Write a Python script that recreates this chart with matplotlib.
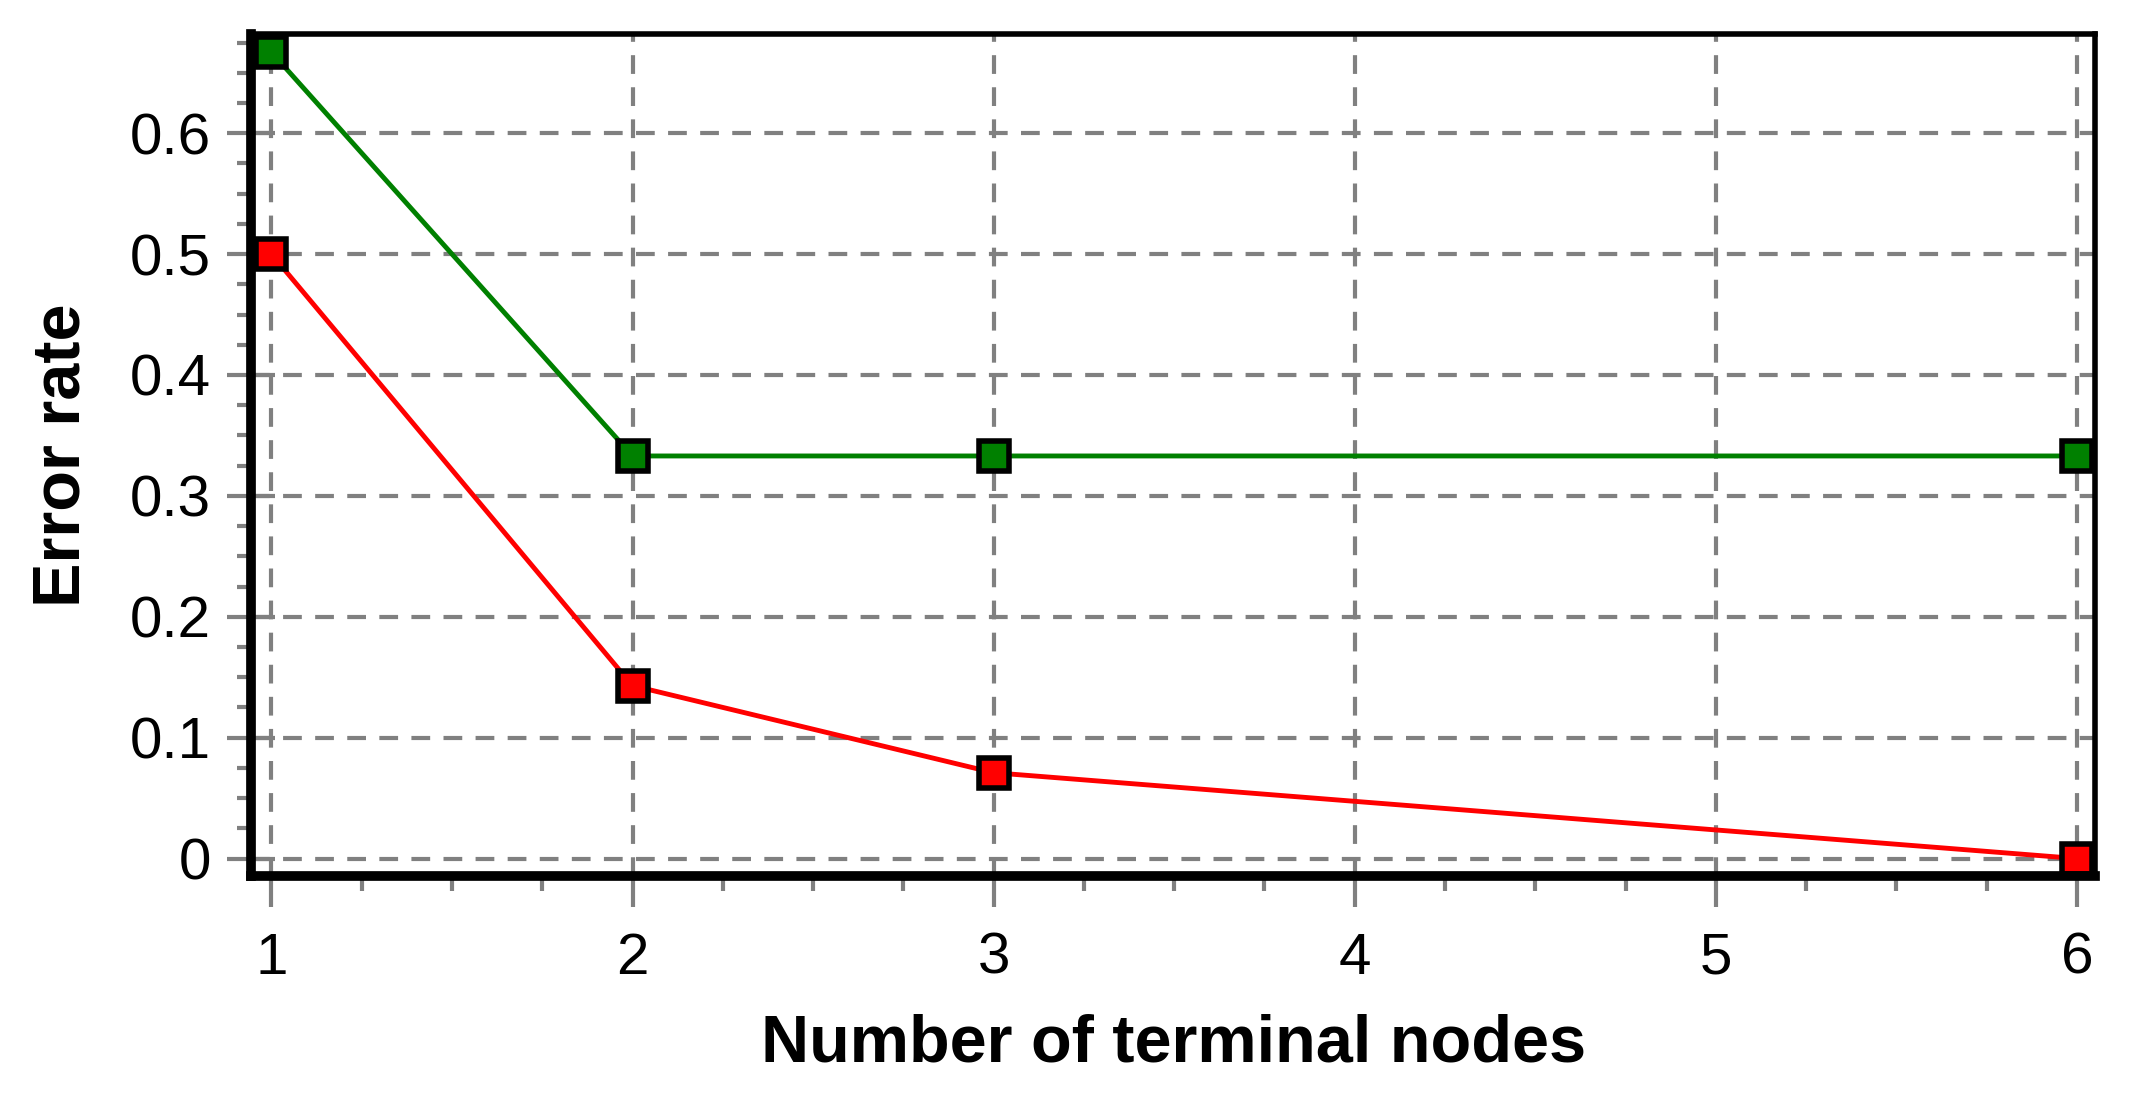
import matplotlib
matplotlib.use("Agg")
import matplotlib.pyplot as plt
from matplotlib.ticker import MultipleLocator

# values
nodes = [1, 2, 3, 6]
green_err = [0.667, 0.333, 0.333, 0.333]
red_err = [0.5, 0.143, 0.071, 0.0]
x_ticks = [1, 2, 3, 4, 5, 6]
y_ticks = [0, 0.1, 0.2, 0.3, 0.4, 0.5, 0.6]
y_labels = ["0", "0.1", "0.2", "0.3", "0.4", "0.5", "0.6"]

plt.rcParams["font.family"] = ["Liberation Sans", "DejaVu Sans"]

fig = plt.figure(figsize=(21.29, 10.98), dpi=100)
ax = fig.add_axes([0.118, 0.202, 0.866, 0.767])

ax.grid(True, color="#808080", linestyle=(0, (4.5, 3.2)), linewidth=3, zorder=0)
ax.set_axisbelow(True)

ax.plot(nodes, green_err, color="#008000", lw=3.5, marker="s", ms=21,
        mfc="#008000", mec="black", mew=4, zorder=3, clip_on=False)
ax.plot(nodes, red_err, color="#ff0000", lw=3.5, marker="s", ms=21,
        mfc="#ff0000", mec="black", mew=4, zorder=3, clip_on=False)

ax.set_xlim(0.944, 6.05)
ax.set_ylim(-0.0146, 0.682)
ax.set_xticks(x_ticks)
ax.set_yticks(y_ticks)
ax.set_yticklabels(y_labels)
ax.xaxis.set_minor_locator(MultipleLocator(0.25))
ax.yaxis.set_minor_locator(MultipleLocator(0.025))

ax.tick_params(axis="x", which="major", direction="out", length=22, width=3,
               color="#808080", labelsize=42, pad=18)
ax.tick_params(axis="x", which="minor", direction="out", length=11, width=3,
               color="#808080")
ax.tick_params(axis="y", which="major", direction="inout", length=34, width=3,
               color="#808080", labelsize=42, pad=12)
ax.tick_params(axis="y", which="minor", direction="out", length=10, width=3,
               color="#808080")

for side, w in (("left", 7), ("bottom", 7), ("top", 4), ("right", 4)):
    ax.spines[side].set_linewidth(w)
    ax.spines[side].set_color("black")
    ax.spines[side].set_zorder(4)

ax.set_xlabel("Number of terminal nodes", fontsize=48, fontweight="bold", labelpad=20)
ax.set_ylabel("Error rate", fontsize=48, fontweight="bold", labelpad=26)

fig.savefig("out.png", dpi=100)
